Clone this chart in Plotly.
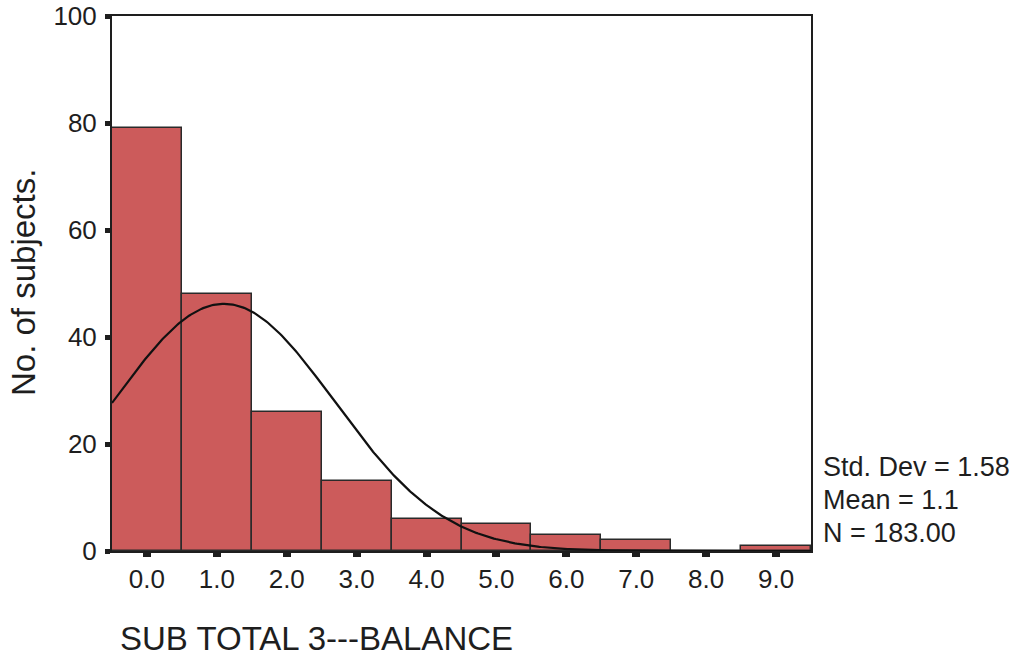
import numpy as np
import plotly.graph_objects as go

# Histogram bins (centres) and subject counts per bin
bin_centers = [0, 1, 2, 3, 4, 5, 6, 7, 8, 9]
counts = [79, 48, 26, 13, 6, 5, 3, 2, 0, 1]
tick_labels = ["0.0", "1.0", "2.0", "3.0", "4.0", "5.0", "6.0", "7.0", "8.0", "9.0"]

# Summary statistics printed beside the chart
std_dev = 1.58
mean = 1.1
n_total = 183.00

FONT = "Liberation Sans, Arial, sans-serif"
INK = "#1e1e1e"

# Fitted normal curve scaled to counts (bin width = 1)
xs = np.linspace(-0.5, 9.5, 400)
ys = n_total * 1.0 / (std_dev * np.sqrt(2 * np.pi)) * np.exp(-0.5 * ((xs - mean) / std_dev) ** 2)

PLOT_TOP, PLOT_BOTTOM, PLOT_LEFT, PLOT_RIGHT = 16, 551, 112, 811
PLOT_H = PLOT_BOTTOM - PLOT_TOP
PLOT_W = PLOT_RIGHT - PLOT_LEFT

fig = go.Figure()
fig.add_trace(go.Bar(
    x=bin_centers, y=counts, width=1.0,
    marker=dict(color="#cc5b5b", line=dict(color="#2a2a2a", width=1.5)),
    showlegend=False, hoverinfo="x+y",
))
fig.add_trace(go.Scatter(
    x=xs, y=ys, mode="lines",
    line=dict(color="#111111", width=2.2),
    showlegend=False, hoverinfo="skip",
))

fig.update_layout(
    width=1013, height=657,
    margin=dict(l=PLOT_LEFT, r=1013 - PLOT_RIGHT, t=PLOT_TOP, b=657 - PLOT_BOTTOM),
    paper_bgcolor="white", plot_bgcolor="white",
    font=dict(family=FONT, color=INK, size=26),
    bargap=0,
    xaxis=dict(
        range=[-0.5, 9.5], tickmode="array", tickvals=bin_centers, ticktext=tick_labels,
        showgrid=False, zeroline=False, showline=True, linecolor=INK, linewidth=2,
        mirror=True, ticks="outside", ticklen=4, tickwidth=8, tickcolor=INK,
        tickfont=dict(size=26, family=FONT, color=INK), ticklabelstandoff=0,
        automargin=False,
    ),
    yaxis=dict(
        range=[0, 100], tickmode="array", tickvals=[0, 20, 40, 60, 80, 100],
        showgrid=False, zeroline=False, showline=True, linecolor=INK, linewidth=2,
        mirror=True, ticks="outside", ticklen=5, tickwidth=5, tickcolor=INK,
        tickfont=dict(size=26, family=FONT, color=INK), ticklabelstandoff=3,
        ticklabeloverflow="allow", automargin=False,
    ),
)

# Axis titles as free text
fig.add_annotation(
    text="SUB TOTAL 3---BALANCE", xref="paper", yref="paper",
    x=(118 - PLOT_LEFT) / PLOT_W, y=(PLOT_BOTTOM - 638) / PLOT_H,
    xanchor="left", yanchor="middle",
    showarrow=False, font=dict(size=33, family=FONT, color=INK),
)
fig.add_annotation(
    text="No. of subjects.", xref="paper", yref="paper",
    x=(23 - PLOT_LEFT) / PLOT_W, y=(PLOT_BOTTOM - 283) / PLOT_H,
    xanchor="center", yanchor="middle",
    textangle=-90, showarrow=False, font=dict(size=33, family=FONT, color=INK),
)

# Statistics block to the right of the plot
stats_lines = [f"Std. Dev = {std_dev:.2f}", f"Mean = {mean:.1f}", f"N = {n_total:.2f}"]
for i, line in enumerate(stats_lines):
    fig.add_annotation(
        text=line, xref="paper", yref="paper",
        x=(821 - PLOT_LEFT) / PLOT_W, y=(PLOT_BOTTOM - (467 + 33 * i)) / PLOT_H,
        xanchor="left", yanchor="middle", showarrow=False,
        font=dict(size=27, family=FONT, color=INK),
    )

fig.write_html("out.html")
